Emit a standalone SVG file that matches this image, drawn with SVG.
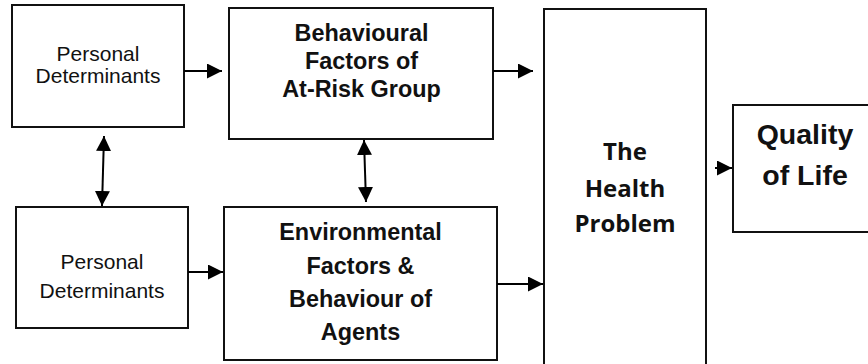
<svg xmlns="http://www.w3.org/2000/svg" width="868" height="364" viewBox="0 0 868 364">
  <style>
    .box { fill: #ffffff; stroke: #111111; stroke-width: 2; }
    .link { stroke: #000000; stroke-width: 2; fill: none; }
    .reg { font-family: "Liberation Sans", Arial, sans-serif; font-size: 21px; fill: #111111; text-anchor: middle; }
    .bold { font-family: "Liberation Sans", Arial, sans-serif; font-size: 23.4px; font-weight: bold; fill: #111111; text-anchor: middle; }
    .health { font-family: "Open Sans", "Noto Sans", sans-serif; font-size: 24px; font-weight: bold; fill: #111111; text-anchor: middle; }
    .qol { font-family: "Liberation Sans", Arial, sans-serif; font-size: 28.5px; font-weight: bold; fill: #111111; text-anchor: middle; }
  </style>
  <defs>
    <marker id="head" markerUnits="userSpaceOnUse" markerWidth="15" markerHeight="15" refX="15" refY="7.5" orient="auto-start-reverse">
      <path d="M0,0 L15,7.5 L0,15 Z" fill="#000000"/>
    </marker>
  </defs>
  <rect width="868" height="364" fill="#ffffff"/>

  <g id="personal-top">
    <rect class="box" x="12" y="5" width="172" height="122"/>
    <text class="reg" x="98" y="61">Personal</text>
    <text class="reg" x="98" y="83">Determinants</text>
  </g>

  <g id="behavioural">
    <rect class="box" x="229" y="8" width="264" height="131"/>
    <text class="bold" x="361.5" y="41">Behavioural</text>
    <text class="bold" x="361.5" y="68.5">Factors of</text>
    <text class="bold" x="361.5" y="96.5">At-Risk Group</text>
  </g>

  <g id="health-problem">
    <rect class="box" x="544" y="9" width="162" height="365"/>
    <text class="health" x="625" y="160">The</text>
    <text class="health" x="625" y="196.5">Health</text>
    <text class="health" x="625" y="232">Problem</text>
  </g>

  <g id="quality-of-life">
    <rect class="box" x="733" y="105" width="145" height="127"/>
    <text class="qol" x="805" y="143.5">Quality</text>
    <text class="qol" x="805" y="184.5">of Life</text>
  </g>

  <g id="personal-bottom">
    <rect class="box" x="16" y="207" width="172" height="121"/>
    <text class="reg" x="102" y="268.5">Personal</text>
    <text class="reg" x="102" y="297.5">Determinants</text>
  </g>

  <g id="environmental">
    <rect class="box" x="224" y="207" width="273" height="153"/>
    <text class="bold" x="360.5" y="240">Environmental</text>
    <text class="bold" x="360.5" y="273.5">Factors &amp;</text>
    <text class="bold" x="360.5" y="306.5">Behaviour of</text>
    <text class="bold" x="360.5" y="340">Agents</text>
  </g>

  <g id="connectors">
    <line class="link" x1="184" y1="71" x2="222" y2="71" marker-end="url(#head)"/>
    <line class="link" x1="493" y1="71" x2="533" y2="71" marker-end="url(#head)"/>
    <line class="link" x1="715" y1="168" x2="732" y2="168" marker-end="url(#head)"/>
    <line class="link" x1="188" y1="272" x2="223" y2="272" marker-end="url(#head)"/>
    <line class="link" x1="497" y1="284" x2="543" y2="284" marker-end="url(#head)"/>
    <line class="link" x1="104" y1="136" x2="102" y2="206" marker-start="url(#head)" marker-end="url(#head)"/>
    <line class="link" x1="364" y1="140" x2="366" y2="202" marker-start="url(#head)" marker-end="url(#head)"/>
  </g>
</svg>
